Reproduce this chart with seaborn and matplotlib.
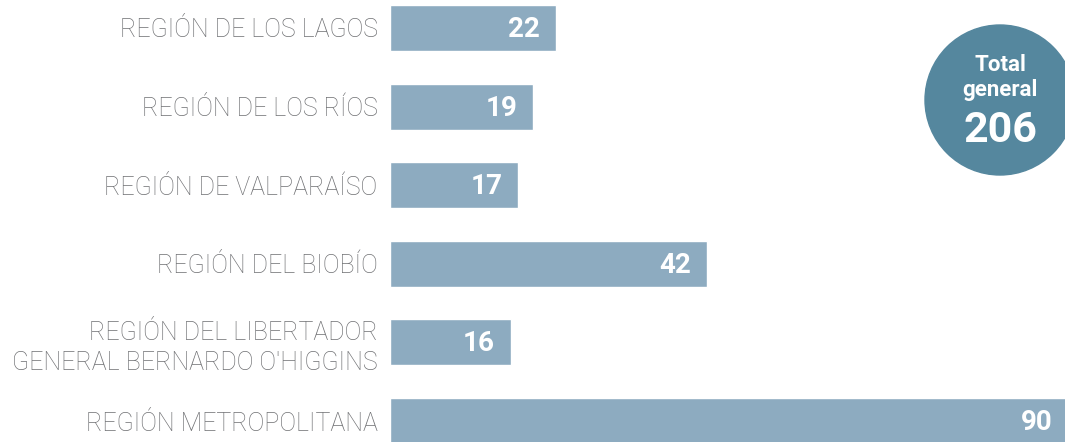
import matplotlib
matplotlib.use("Agg")
import matplotlib.pyplot as plt
import seaborn as sns
import pandas as pd
from matplotlib.patches import Ellipse

regiones = [
    "REGIÓN DE LOS LAGOS",
    "REGIÓN DE LOS RÍOS",
    "REGIÓN DE VALPARAÍSO",
    "REGIÓN DEL BIOBÍO",
    "REGIÓN DEL LIBERTADOR\nGENERAL BERNARDO O'HIGGINS",
    "REGIÓN METROPOLITANA",
]
valores = [22, 19, 17, 42, 16, 90]
total = 206

BAR_COLOR = "#8dabc0"
CIRCLE_COLOR = "#55879e"
LABEL_COLOR = "#6f7073"

sns.set_style("white")
plt.rcParams["font.family"] = ["Roboto", "DejaVu Sans"]

df = pd.DataFrame({"region": regiones, "valor": valores})

fig = plt.figure(figsize=(10.65, 4.42), dpi=100)
ax = fig.add_axes([390 / 1065, 0, 675 / 1065, 1])

sns.barplot(data=df, y="region", x="valor", orient="h", color=BAR_COLOR,
            saturation=1, width=0.585, ax=ax)

# the longest bar runs off the right edge, as in the original
ax.set_xlim(0, 89.5)
ax.set_ylim(5.267, -0.356)
ax.set_xlabel("")
ax.set_ylabel("")
ax.set_xticks([])
sns.despine(ax=ax, left=True, bottom=True)
ax.tick_params(axis="y", length=0, pad=9)
for lab in ax.get_yticklabels():
    lab.set_fontsize(18)
    lab.set_color(LABEL_COLOR)
    lab.set_fontweight("light")
    lab.set_horizontalalignment("right")
    lab.set_multialignment("right")
    lab.set_linespacing(1.3)

for i, v in enumerate(valores):
    ax.text(v - 2.1, i + 0.02, str(v), ha="right", va="center",
            color="white", fontsize=20, fontweight="bold")

# circle with the total
circ = Ellipse((1000 / 1065, 1 - 100 / 442), 150 / 1065, 150 / 442,
               transform=fig.transFigure, color=CIRCLE_COLOR, zorder=5)
fig.patches.append(circ)
fig.text(1000 / 1065, 1 - 65 / 442, "Total", ha="center", va="center",
         color="white", fontsize=16, fontweight="bold", zorder=6)
fig.text(1000 / 1065, 1 - 90 / 442, "general", ha="center", va="center",
         color="white", fontsize=16, fontweight="bold", zorder=6)
fig.text(1000 / 1065, 1 - 130 / 442, str(total), ha="center", va="center",
         color="white", fontsize=31, fontweight="bold", zorder=6)

fig.savefig("out.png", dpi=100)
